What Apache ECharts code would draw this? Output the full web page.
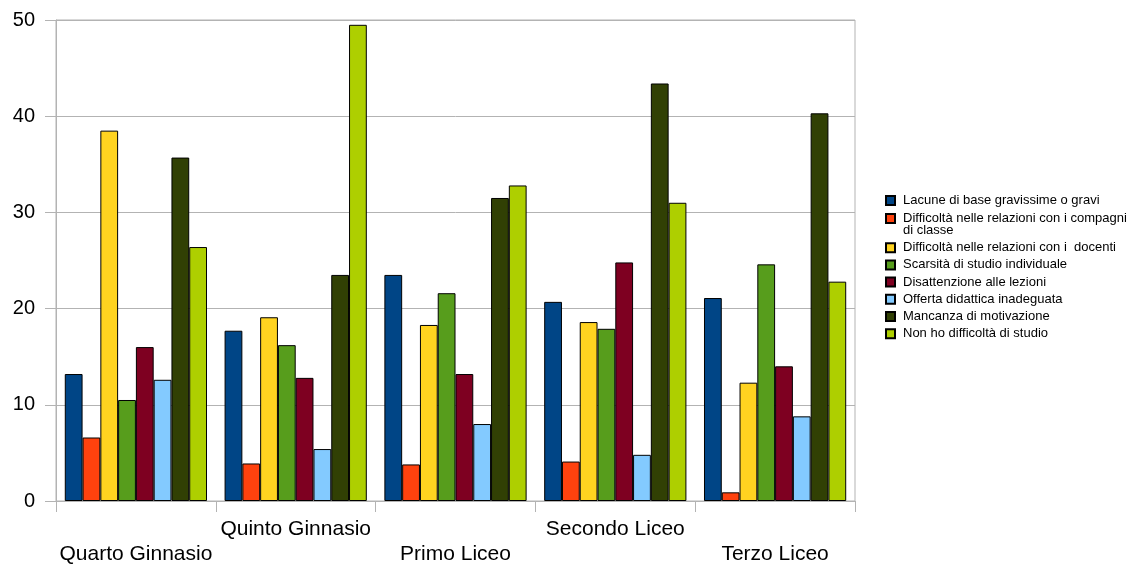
<!DOCTYPE html>
<html>
<head>
<meta charset="utf-8">
<script src="https://cdn.jsdelivr.net/npm/echarts@6/dist/echarts.min.js"></script>
<style>
  html, body { margin: 0; padding: 0; background: #fff; }
  #chart { width: 1134px; height: 567px; }
</style>
</head>
<body>
<div id="chart"></div>
<script>
// School years on the category axis
const categories = ['Quarto Ginnasio', 'Quinto Ginnasio', 'Primo Liceo', 'Secondo Liceo', 'Terzo Liceo'];

// Reasons for study difficulty (series names)
const seriesNames = [
  'Lacune di base gravissime o gravi',
  'Difficoltà nelle relazioni con i compagni di classe',
  'Difficoltà nelle relazioni con i  docenti',
  'Scarsità di studio individuale',
  'Disattenzione alle lezioni',
  'Offerta didattica inadeguata',
  'Mancanza di motivazione',
  'Non ho difficoltà di studio'
];

// Percentages per school year, one array per reason
const lacune        = [13.2, 17.7, 23.5, 20.7, 21.1];
const compagni      = [6.6, 3.9, 3.8, 4.1, 0.9];
const docenti       = [38.5, 19.1, 18.3, 18.6, 12.3];
const scarsita      = [10.5, 16.2, 21.6, 17.9, 24.6];
const disattenzione = [16.0, 12.8, 13.2, 24.8, 14.0];
const offerta       = [12.6, 5.4, 8.0, 4.8, 8.8];
const motivazione   = [35.7, 23.5, 31.5, 43.4, 40.3];
const nessuna       = [26.4, 49.5, 32.8, 31.0, 22.8];

// Value axis ticks
const yTicks = [0, 10, 20, 30, 40, 50];

const seriesValues = [lacune, compagni, docenti, scarsita, disattenzione, offerta, motivazione, nessuna];
const colors = ['#004586', '#ff420e', '#ffd320', '#579d1c', '#7e0021', '#83caff', '#314004', '#aecf00'];

const FONT = '"Liberation Sans", Arial, sans-serif';
const gridColor = '#b3b3b3';

const legendText = {
  fontFamily: FONT,
  fontSize: 13,
  lineHeight: 12,
  color: '#000',
  padding: [0, 0, 0, 3]
};

// The long legend entry wraps onto a second line; a leading blank line keeps
// its first line level with the colour box.
function legendLabel(name) {
  return name === seriesNames[1]
    ? '\nDifficoltà nelle relazioni con i compagni\ndi classe'
    : name;
}

const chart = echarts.init(document.getElementById('chart'), null, { renderer: 'canvas' });

chart.setOption({
  animation: false,
  backgroundColor: '#fff',
  color: colors,
  grid: {
    left: 56, right: 279, top: 20, bottom: 66,
    show: true, borderColor: gridColor, borderWidth: 1,
    containLabel: false
  },
  legend: [
    {
      orient: 'vertical', left: 885, top: 194, padding: 0,
      icon: 'rect', itemWidth: 9, itemHeight: 9, itemGap: 4.2,
      selectedMode: false,
      textStyle: legendText,
      formatter: legendLabel,
      data: [seriesNames[0]]
    },
    {
      orient: 'vertical', left: 885, top: 200, padding: 0,
      icon: 'rect', itemWidth: 9, itemHeight: 9, itemGap: 4.2,
      selectedMode: false,
      textStyle: legendText,
      formatter: legendLabel,
      data: seriesNames.slice(1)
    }
  ],
  xAxis: {
    type: 'category',
    data: categories,
    axisLine: { show: true, lineStyle: { color: gridColor, width: 1 } },
    axisTick: { show: true, length: 11, lineStyle: { color: gridColor } },
    axisLabel: {
      interval: 0,
      margin: 16,
      fontFamily: FONT,
      fontSize: 21,
      lineHeight: 25,
      color: '#000',
      formatter: function (value, index) {
        return index % 2 === 0 ? '\n' + value : value;
      }
    },
    splitLine: { show: false }
  },
  yAxis: {
    type: 'value',
    min: yTicks[0],
    max: yTicks[yTicks.length - 1],
    interval: yTicks[1] - yTicks[0],
    axisLine: { show: true, lineStyle: { color: gridColor, width: 1 } },
    axisTick: { show: true, length: 11, lineStyle: { color: gridColor } },
    axisLabel: {
      margin: 21,
      fontFamily: FONT,
      fontSize: 20,
      color: '#000'
    },
    splitLine: { show: true, lineStyle: { color: gridColor, width: 1 } }
  },
  series: seriesNames.map(function (name, i) {
    return {
      name: name,
      type: 'bar',
      data: seriesValues[i],
      barGap: '0%',
      barCategoryGap: '11%',
      itemStyle: { color: colors[i], borderColor: '#000', borderWidth: 1 },
      emphasis: { disabled: true }
    };
  })
});
</script>
</body>
</html>
